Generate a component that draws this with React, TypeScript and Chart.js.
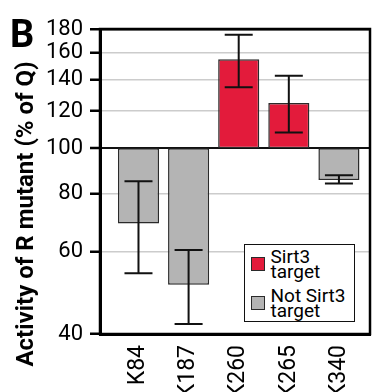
import React, { useEffect, useRef } from "react";
import { Chart, registerables } from "chart.js";

Chart.register(...registerables);

const categories = ["K84", "K187", "K260", "K265", "K340"];
const activity = [69, 51, 155, 125, 85.5];
const errorHigh = [85, 60.5, 175, 143, 87.5];
const errorLow = [54, 42, 135, 108, 84];
const isSirt3Target = [false, false, true, true, false];
const yTicks = [40, 60, 80, 100, 120, 140, 160, 180];
const baseline = 100;

const RED = "#E31B3B";
const GRAY = "#B4B4B4";
const FONT = "Roboto, 'Open Sans', sans-serif";

const errorBarPlugin = {
  id: "errorBars",
  afterDatasetsDraw(chart: any) {
    const { ctx } = chart;
    const xs = chart.scales.x;
    const ys = chart.scales.y;
    ctx.save();
    ctx.strokeStyle = "#111";
    ctx.lineWidth = 2;
    categories.forEach((_, i) => {
      const x = xs.getPixelForValue(i);
      const yh = ys.getPixelForValue(errorHigh[i]);
      const yl = ys.getPixelForValue(errorLow[i]);
      const cap = 14;
      ctx.beginPath();
      ctx.moveTo(x, yh);
      ctx.lineTo(x, yl);
      ctx.moveTo(x - cap, yh);
      ctx.lineTo(x + cap, yh);
      ctx.moveTo(x - cap, yl);
      ctx.lineTo(x + cap, yl);
      ctx.stroke();
    });
    ctx.restore();
  },
};

const frameBoxPlugin = {
  id: "frameBox",
  afterDraw(chart: any) {
    const { ctx, chartArea } = chart;
    ctx.save();
    ctx.strokeStyle = "#000";
    ctx.lineWidth = 2.5;
    ctx.strokeRect(
      chartArea.left,
      chartArea.top,
      chartArea.right - chartArea.left,
      chartArea.bottom - chartArea.top
    );
    ctx.restore();
  },
};

export default function App() {
  const canvasRef = useRef<HTMLCanvasElement | null>(null);

  useEffect(() => {
    if (!canvasRef.current) return;
    const chart = new Chart(canvasRef.current, {
      type: "bar",
      data: {
        datasets: [
          {
            label: "Activity",
            data: categories.map((_, i) => ({ x: i, y: [baseline, activity[i]] })) as any,
            backgroundColor: isSirt3Target.map((t) => (t ? RED : GRAY)),
            borderColor: "#2a2a2a",
            borderWidth: 1.5,
            borderSkipped: false,
            barPercentage: 0.82,
            categoryPercentage: 1,
          },
        ],
      },
      options: {
        responsive: false,
        animation: false,
        devicePixelRatio: 1,
        layout: { padding: { top: 29, right: 2, left: 0, bottom: 0 } },
        plugins: {
          legend: { display: false },
          tooltip: { enabled: false },
        },
        scales: {
          x: {
            type: "linear",
            min: -0.768,
            max: 4.62,
            offset: false,
            grid: { display: false, offset: false },
            border: { display: true, color: "#000", width: 3 },
            afterBuildTicks: (scale: any) => {
              scale.ticks = categories.map((_, i) => ({ value: i }));
            },
            afterFit: (scale: any) => {
              scale.height = 58;
            },
            ticks: {
              autoSkip: false,
              minRotation: 90,
              maxRotation: 90,
              padding: 3,
              color: "#000",
              font: { family: FONT, size: 23 },
              callback: (v: any) => categories[Math.round(Number(v))] ?? "",
            },
          },
          y: {
            type: "logarithmic",
            min: 40,
            max: 180,
            afterBuildTicks: (scale: any) => {
              scale.ticks = yTicks.map((v) => ({ value: v }));
            },
            afterFit: (scale: any) => {
              scale.width = 100;
            },
            border: { display: true, color: "#000", width: 3 },
            grid: {
              drawTicks: true,
              tickLength: 10,
              tickColor: "#000",
              tickWidth: 2.5,
              color: (ctx: any) => {
                const v = ctx.tick?.value;
                if (v === 100 || v === 180) return "#111";
                if (v === 40) return "rgba(0,0,0,0)";
                return "#cccccc";
              },
              lineWidth: (ctx: any) => {
                const v = ctx.tick?.value;
                if (v === 100) return 2;
                if (v === 180) return 2.5;
                return 1.5;
              },
            },
            ticks: {
              padding: 7,
              color: "#000",
              font: { family: FONT, size: 22 },
              callback: (v: any) => String(v),
            },
          },
        },
      },
      plugins: [errorBarPlugin, frameBoxPlugin],
    });
    return () => chart.destroy();
  }, []);

  const legendItems = [
    { color: RED, lines: ["Sirt3", "target"] },
    { color: GRAY, lines: ["Not Sirt3", "target"] },
  ];

  return (
    <div
      style={{
        position: "absolute",
        left: 0,
        top: 0,
        width: 372,
        height: 392,
        background: "#fff",
        fontFamily: FONT,
        color: "#000",
        overflow: "hidden",
      }}
    >
      <canvas ref={canvasRef} width={372} height={392} style={{ display: "block" }} />
      <div
        style={{
          position: "absolute",
          left: 10,
          top: 15,
          fontSize: 38,
          fontWeight: 700,
          lineHeight: "38px",
        }}
      >
        B
      </div>
      <div
        style={{
          position: "absolute",
          left: 24.5,
          top: 214,
          transform: "translate(-50%, -50%) rotate(-90deg)",
          whiteSpace: "nowrap",
          fontSize: 24,
          fontWeight: 700,
          lineHeight: "24px",
        }}
      >
        Activity of R mutant (% of Q)
      </div>
      <div
        style={{
          position: "absolute",
          left: 244,
          top: 244,
          width: 111,
          height: 78,
          boxSizing: "border-box",
          border: "1.5px solid #111",
          background: "#fff",
          padding: "3.5px 0 0 5.5px",
        }}
      >
        {legendItems.map((it, k) => (
          <div
            key={k}
            style={{
              display: "flex",
              alignItems: "center",
              marginBottom: k === 0 ? 9 : 0,
            }}
          >
            <div
              style={{
                width: 14,
                height: 14,
                boxSizing: "border-box",
                background: it.color,
                border: "1.5px solid #2a2a2a",
                marginRight: 6,
                flex: "none",
              }}
            />
            <div style={{ fontSize: 19, lineHeight: "15px" }}>
              {it.lines.map((l, j) => (
                <div key={j}>{l}</div>
              ))}
            </div>
          </div>
        ))}
      </div>
    </div>
  );
}
